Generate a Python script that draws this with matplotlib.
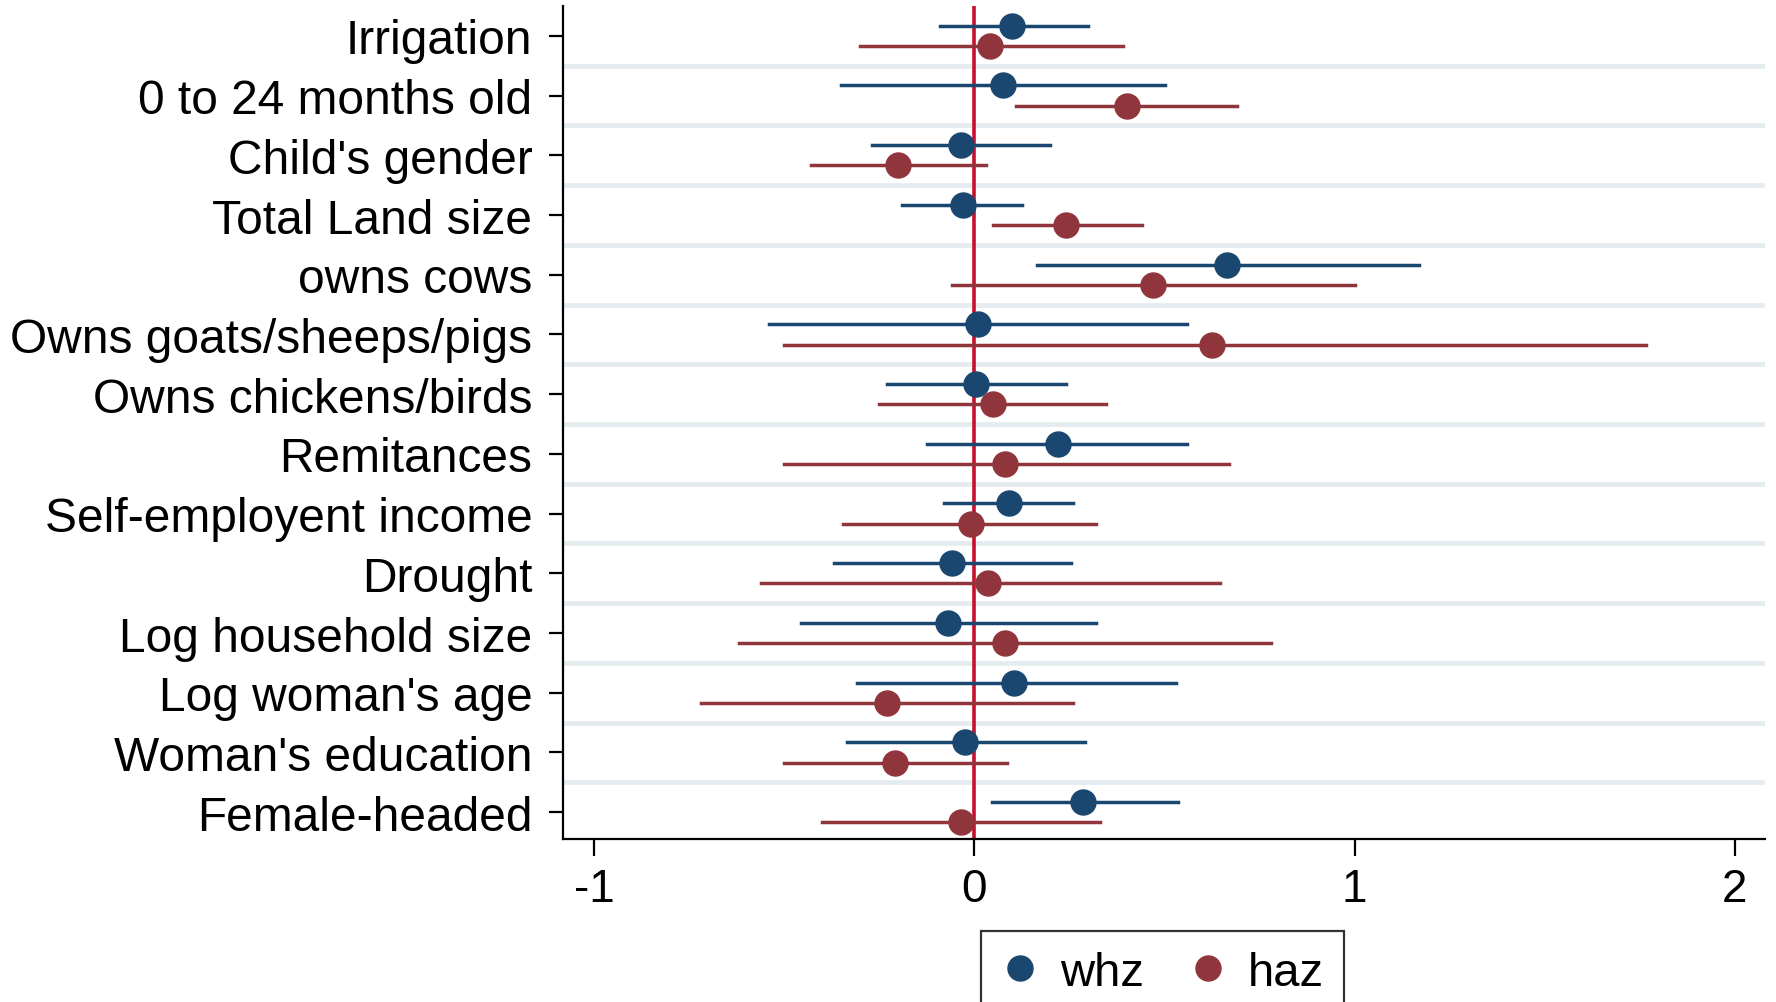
import matplotlib
import matplotlib.pyplot as plt
from matplotlib.lines import Line2D

matplotlib.use("Agg")

plt.rcParams["font.family"] = ["Liberation Sans", "DejaVu Sans"]

LABELS = [
    "Irrigation",
    "0 to 24 months old",
    "Child's gender",
    "Total Land size",
    "owns cows",
    "Owns goats/sheeps/pigs",
    "Owns chickens/birds",
    "Remitances",
    "Self-employent income",
    "Drought",
    "Log household size",
    "Log woman's age",
    "Woman's education",
    "Female-headed",
]

whz_coef = [0.10, 0.075, -0.035, -0.03, 0.665, 0.01, 0.005, 0.22, 0.09, -0.06, -0.07, 0.105, -0.025, 0.285]
whz_lo = [-0.09, -0.35, -0.27, -0.19, 0.165, -0.54, -0.23, -0.125, -0.08, -0.37, -0.455, -0.31, -0.335, 0.045]
whz_hi = [0.30, 0.50, 0.20, 0.125, 1.17, 0.56, 0.24, 0.56, 0.26, 0.255, 0.32, 0.53, 0.29, 0.535]

haz_coef = [0.04, 0.40, -0.20, 0.24, 0.47, 0.625, 0.05, 0.08, -0.01, 0.035, 0.08, -0.23, -0.21, -0.035]
haz_lo = [-0.30, 0.11, -0.43, 0.05, -0.06, -0.50, -0.25, -0.50, -0.345, -0.56, -0.62, -0.72, -0.50, -0.40]
haz_hi = [0.39, 0.69, 0.03, 0.44, 1.00, 1.765, 0.345, 0.67, 0.32, 0.645, 0.78, 0.26, 0.085, 0.33]

X_TICKS = [-1, 0, 1, 2]

BLUE = "#1a476f"
RED = "#90353b"
ZERO = "#c8102e"
GRID = "#e4ecef"

fig = plt.figure(figsize=(17.76, 10.03), dpi=100, facecolor="white")
ax = fig.add_axes([0.317, 0.1625, 0.677, 0.8305])

rows = list(range(1, len(LABELS) + 1))
off = 0.17

# light separators between coefficient rows
for k in range(1, len(LABELS)):
    ax.axhline(k + 0.5, color=GRID, linewidth=3.4, zorder=0)

ax.axvline(0, color=ZERO, linewidth=2.6, zorder=1)

for y, c, lo, hi in zip(rows, whz_coef, whz_lo, whz_hi):
    ax.plot([lo, hi], [y - off, y - off], color=BLUE, linewidth=2.5, zorder=2)
    ax.plot(c, y - off, "o", color=BLUE, markersize=18, zorder=3)
for y, c, lo, hi in zip(rows, haz_coef, haz_lo, haz_hi):
    ax.plot([lo, hi], [y + off, y + off], color=RED, linewidth=2.5, zorder=2)
    ax.plot(c, y + off, "o", color=RED, markersize=18, zorder=3)

ax.set_ylim(14.45, 0.5)
ax.set_xlim(-1.082, 2.08)
ax.set_yticks(rows)
ax.set_yticklabels(LABELS, fontsize=34.5)
ax.set_xticks(X_TICKS)
ax.set_xticklabels([str(t) for t in X_TICKS], fontsize=33)

ax.tick_params(axis="y", length=10, width=1.6, pad=12)
ax.tick_params(axis="x", length=12, width=1.6, pad=8)
for side in ("top", "right"):
    ax.spines[side].set_visible(False)
for side in ("left", "bottom"):
    ax.spines[side].set_linewidth(1.6)
    ax.spines[side].set_color("black")

handles = [
    Line2D([], [], marker="o", linestyle="none", color=BLUE, markersize=18),
    Line2D([], [], marker="o", linestyle="none", color=RED, markersize=18),
]
leg = fig.legend(handles, ["whz", "haz"], loc="upper left",
                 bbox_to_anchor=(981 / 1776, 1 - 932 / 1003),
                 ncol=2, fontsize=34, frameon=True, fancybox=False,
                 edgecolor="black", handlelength=0.8, handletextpad=0.45,
                 columnspacing=0.95, borderpad=0.42, borderaxespad=0)
leg.get_frame().set_linewidth(1.6)

fig.savefig("out.png", dpi=100, facecolor="white")
